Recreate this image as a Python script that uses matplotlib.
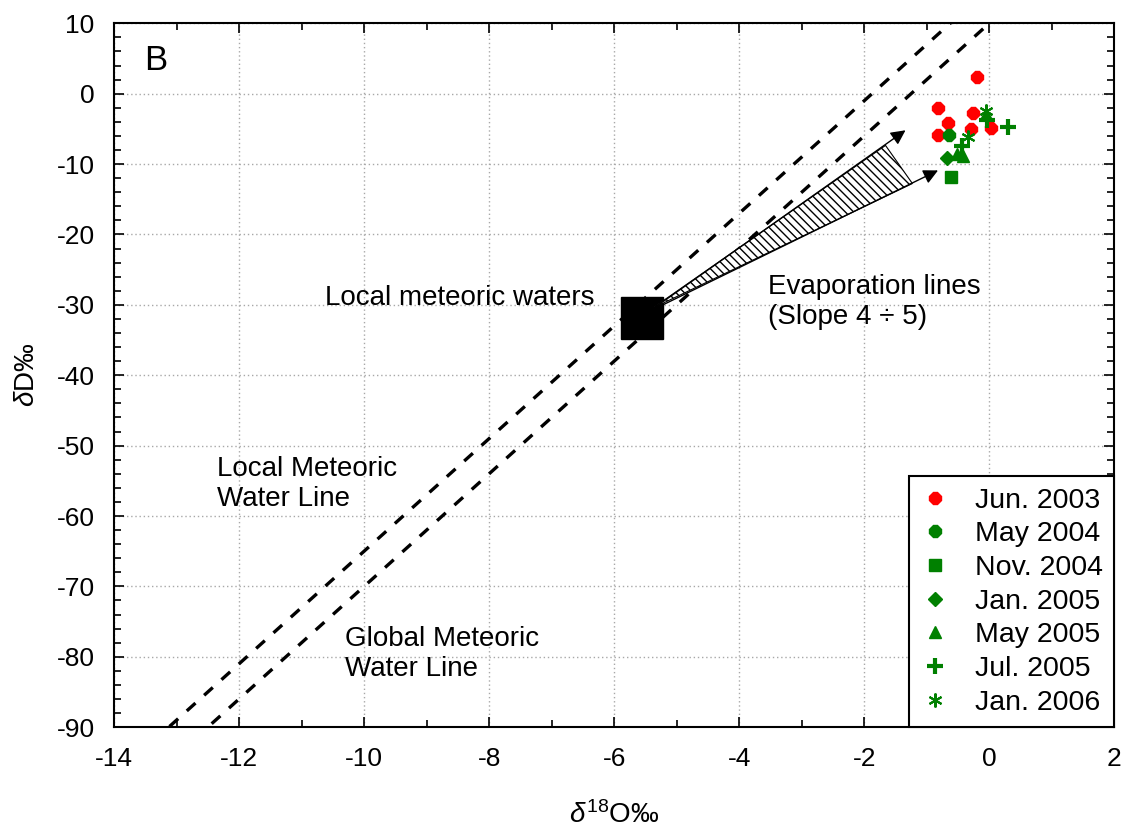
import matplotlib
matplotlib.use("Agg")
import matplotlib.pyplot as plt
from matplotlib.ticker import MultipleLocator
from matplotlib.lines import Line2D
from matplotlib.patches import Polygon
import numpy as np

plt.rcParams['font.family'] = ['Liberation Sans', 'DejaVu Sans']
plt.rcParams['mathtext.fontset'] = 'custom'
plt.rcParams['mathtext.rm'] = 'Liberation Sans'
plt.rcParams['mathtext.it'] = 'Liberation Sans:italic'
plt.rcParams['axes.unicode_minus'] = False

# Isotope measurements by sampling campaign (delta18O, deltaD, per mil)
jun2003_o = [-0.19, -0.82, -0.26, -0.66, -0.82, -0.29, 0.03]
jun2003_d = [2.3, -2.1, -2.8, -4.2, -5.9, -5.0, -4.9]
may2004_o = [-0.64]
may2004_d = [-5.8]
nov2004_o = [-0.62]
nov2004_d = [-11.8]
jan2005_o = [-0.67]
jan2005_d = [-9.2]
may2005_o = [-0.51, -0.42, -0.06]
may2005_d = [-8.6, -8.9, -2.9]
jul2005_o = [-0.03, 0.30, -0.43]
jul2005_d = [-3.8, -4.8, -7.4]
jan2006_o = [-0.05, -0.34]
jan2006_d = [-2.5, -6.2]

# Meteoric water lines: deltaD = slope * delta18O + intercept
lmwl_slope, lmwl_intercept = 8.0, 15.0
gmwl_slope, gmwl_intercept = 8.0, 10.0

# Mean local meteoric water composition
local_o, local_d = -5.55, -31.8

# Evaporation trend arrows and the shaded envelope between them
evap_start = (-5.45, -31.0)
evap_ends = [(-1.34, -5.2), (-0.82, -10.9)]
evap_envelope = [(-5.39, -30.5), (-1.66, -7.35), (-1.23, -12.76)]

fig = plt.figure(figsize=(11.29, 8.32), dpi=100)
ax = fig.add_axes([0.101, 0.126, 0.886, 0.846])

ax.set_xlim(-14, 2)
ax.set_ylim(-90, 10)
ax.xaxis.set_major_locator(MultipleLocator(2))
ax.xaxis.set_minor_locator(MultipleLocator(1))
ax.yaxis.set_major_locator(MultipleLocator(10))
ax.yaxis.set_minor_locator(MultipleLocator(2))
ax.tick_params(which='both', direction='in', top=True, right=True,
               width=1.2, labelsize=19)
ax.tick_params(axis='x', pad=14)
ax.tick_params(axis='y', pad=14)
ax.tick_params(which='major', length=7)
ax.tick_params(which='minor', length=5)
ax.grid(True, which='major', color='#a8a8a8', linestyle=(0, (1, 2)), linewidth=1.0)
for sp in ax.spines.values():
    sp.set_linewidth(1.5)

xs = np.array([-14.5, 2.5])
dash = (0, (3.5, 3.5))
ax.plot(xs, lmwl_slope * xs + lmwl_intercept, color='black', lw=2.4, linestyle=dash, zorder=2)
ax.plot(xs, gmwl_slope * xs + gmwl_intercept, color='black', lw=2.4, linestyle=dash, zorder=2)

ax.plot([local_o], [local_d], marker='s', markersize=30, color='black', zorder=3)

ax.add_patch(Polygon(evap_envelope, closed=True, facecolor='white', edgecolor='black',
                     hatch='\\\\\\\\', linewidth=0.8, zorder=3))
for end in evap_ends:
    ax.annotate('', xy=end, xytext=evap_start,
                arrowprops=dict(arrowstyle='-|>', color='black', lw=1.0,
                                mutation_scale=22, shrinkA=0, shrinkB=0),
                zorder=4)

red = '#ff0000'
green = '#008000'
ms = 9
ax.plot(jun2003_o, jun2003_d, linestyle='none', marker='8', color=red, markersize=ms, zorder=5)
ax.plot(may2004_o, may2004_d, linestyle='none', marker='8', color=green, markersize=ms, zorder=5)
ax.plot(nov2004_o, nov2004_d, linestyle='none', marker='s', color=green, markersize=ms, zorder=5)
ax.plot(jan2005_o, jan2005_d, linestyle='none', marker='D', color=green, markersize=7.5, zorder=5)
ax.plot(may2005_o, may2005_d, linestyle='none', marker='^', color=green, markersize=ms, zorder=5)
ax.plot(jul2005_o, jul2005_d, linestyle='none', marker='+', color=green, markersize=11,
        markeredgewidth=3, zorder=5)
ax.plot(jan2006_o, jan2006_d, linestyle='none', marker=(6, 2, 0), color=green, markersize=10,
        markeredgewidth=1.5, zorder=5)

ax.text(-13.52, 4.7, 'B', fontsize=25, ha='left', va='center')
ax.text(-10.62, -29.0, 'Local meteoric waters', fontsize=20, ha='left', va='center')
ax.text(-3.54, -29.6, 'Evaporation lines\n(Slope 4 \u00f7 5)', fontsize=20, ha='left',
        va='center', linespacing=1.2)
ax.text(-12.35, -55.4, 'Local Meteoric\nWater Line', fontsize=20, ha='left', va='center',
        linespacing=1.2)
ax.text(-10.3, -79.6, 'Global Meteoric\nWater Line', fontsize=20, ha='left', va='center',
        linespacing=1.2)

ax.set_xlabel(r'$\delta^{18}$O‰', fontsize=20, labelpad=22)
ax.set_ylabel(r'$\delta$D‰', fontsize=20, labelpad=12)

handles = [
    Line2D([], [], linestyle='none', marker='8', color=red, markersize=9),
    Line2D([], [], linestyle='none', marker='8', color=green, markersize=9),
    Line2D([], [], linestyle='none', marker='s', color=green, markersize=9),
    Line2D([], [], linestyle='none', marker='D', color=green, markersize=7.5),
    Line2D([], [], linestyle='none', marker='^', color=green, markersize=9),
    Line2D([], [], linestyle='none', marker='+', color=green, markersize=11, markeredgewidth=3),
    Line2D([], [], linestyle='none', marker=(6, 2, 0), color=green, markersize=10,
           markeredgewidth=1.5),
]
labels = ['Jun. 2003', 'May 2004', 'Nov. 2004', 'Jan. 2005', 'May 2005', 'Jul. 2005', 'Jan. 2006']
leg = ax.legend(handles, labels, loc='lower right', fontsize=20.5, frameon=True, fancybox=False,
                edgecolor='black', framealpha=1, borderaxespad=0, handlelength=1.0,
                handletextpad=0.9, labelspacing=0.27, borderpad=0.4)
leg.get_frame().set_linewidth(1.5)
leg.set_zorder(10)

fig.savefig('out.png', dpi=100)
